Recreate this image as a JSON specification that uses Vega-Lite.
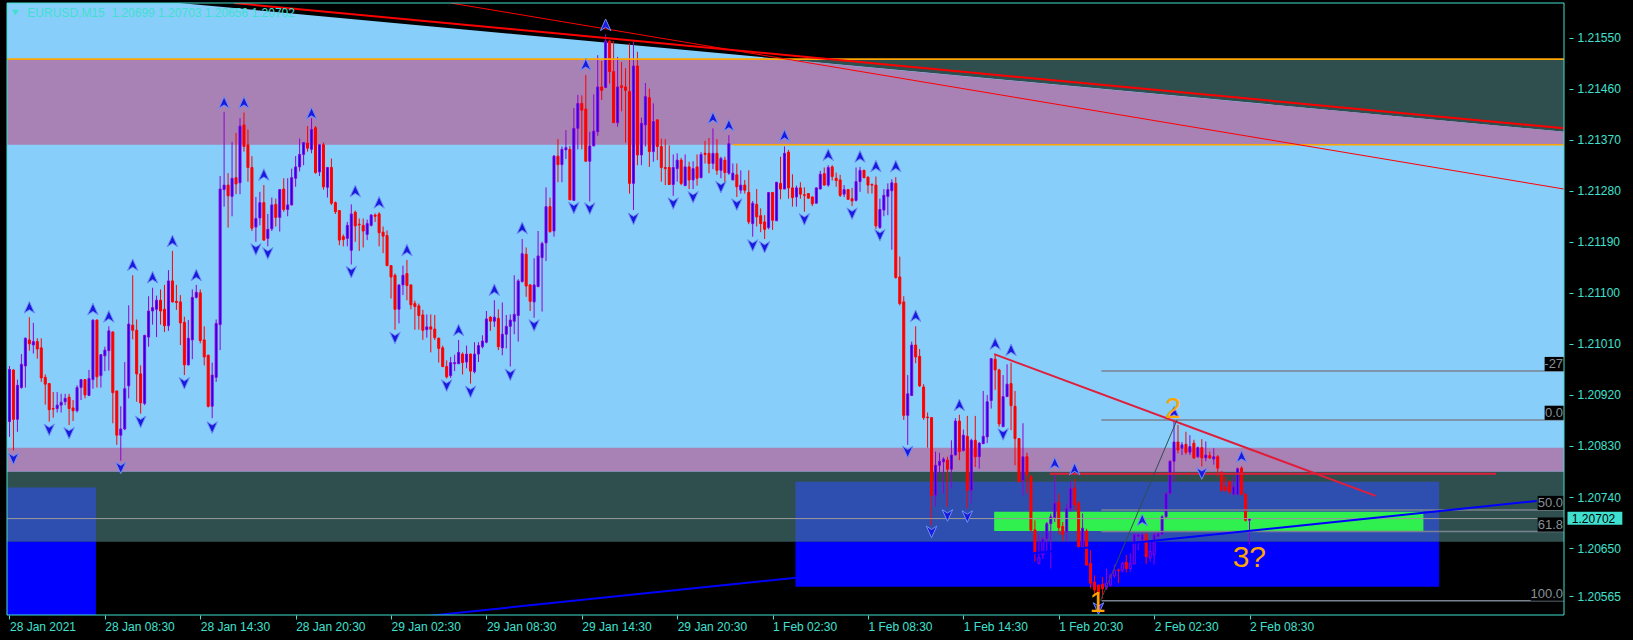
{
"$schema":"https://vega.github.io/schema/vega-lite/v6.json",
"width":1567,"height":612,
"autosize":{"type":"none"},
"padding":{"left":2,"top":3,"right":64,"bottom":25},
"background":"#000000",
"config":{"view":{"stroke":null}},
"resolve":{"axis":{"x":"independent","y":"independent"}},
"datasets":{
"slate":[{"a":-0.625,"b":391.125,"t":1.21512,"u":1.21361},{"a":-0.625,"b":391.125,"t":1.20827,"u":1.20661}],
"sky":[{"i":-0.625,"t":1.21611,"b":1.20785},{"i":42.75,"t":1.21611,"b":1.20785},{"i":391.125,"t":1.21384,"b":1.20785}],
"pur":[{"i":-0.625,"t":1.21512,"b":1.21361},{"i":194.1,"t":1.21512,"b":1.21361},{"i":391.125,"t":1.21384,"b":1.21361}],
"pband":[{"a":-0.625,"b":391.125,"t":1.20827,"u":1.20785}],
"xblue":[{"a":-0.625,"b":21.75,"t":1.20757,"u":1.20661},{"a":197.75,"b":359.7,"t":1.20767,"u":1.20661}],
"blue":[{"a":-0.625,"b":21.75,"t":1.20661,"u":1.20532},{"a":197.75,"b":359.7,"t":1.20661,"u":1.20582}],
"green":[{"a":247.75,"b":355.75,"t":1.20714,"u":1.20680}],
"orange":[{"a":-0.625,"b":391.125,"p":1.21512},{"a":182,"b":391.125,"p":1.21361}],
"bid":[{"a":-0.625,"b":391.125,"p":1.20702}],
"fib":[{"a":274.75,"b":391.125,"p":1.20962},{"a":274.75,"b":391.125,"p":1.20876},{"a":274.75,"b":391.125,"p":1.20717},{"a":274.75,"b":391.125,"p":1.20679},{"a":274.75,"b":391.125,"p":1.20557}],
"red2":[{"a":56.5,"pa":1.21611,"b":391.125,"pb":1.21390}],
"red1":[{"a":111,"pa":1.21611,"b":391.125,"pb":1.21283}],
"crim":[{"a":247.75,"pa":1.20992,"b":343.75,"pb":1.20742},{"a":261.75,"pa":1.20781,"b":374,"pb":1.20781}],
"bl":[{"a":104.75,"pa":1.20530,"b":384.25,"pb":1.20733}],
"zz":[{"a":274.5,"pa":1.20557,"b":293.75,"pb":1.20876}],
"ticksx":[{"i":0},{"i":24},{"i":48},{"i":72},{"i":96},{"i":120},{"i":144},{"i":168},{"i":192},{"i":216},{"i":240},{"i":264},{"i":288},{"i":312}],
"k":[
{"i":0,"o":1.20873,"h":1.20971,"l":1.20846,"c":1.20965},
{"i":1,"o":1.20964,"h":1.20965,"l":1.20822,"c":1.20877},
{"i":2,"o":1.20877,"h":1.20947,"l":1.20855,"c":1.20937},
{"i":3,"o":1.20933,"h":1.20992,"l":1.20931,"c":1.20974},
{"i":4,"o":1.20971,"h":1.21021,"l":1.20933,"c":1.21020},
{"i":5,"o":1.21017,"h":1.21057,"l":1.20998,"c":1.21010},
{"i":6,"o":1.21008,"h":1.21047,"l":1.20993,"c":1.21014},
{"i":7,"o":1.21014,"h":1.21020,"l":1.20984,"c":1.21001},
{"i":8,"o":1.21003,"h":1.21020,"l":1.20943,"c":1.20950},
{"i":9,"o":1.20951,"h":1.20956,"l":1.20903,"c":1.20939},
{"i":10,"o":1.20940,"h":1.20941,"l":1.20873,"c":1.20894},
{"i":11,"o":1.20896,"h":1.20925,"l":1.20880,"c":1.20895},
{"i":12,"o":1.20896,"h":1.20925,"l":1.20889,"c":1.20902},
{"i":13,"o":1.20902,"h":1.20922,"l":1.20889,"c":1.20907},
{"i":14,"o":1.20908,"h":1.20922,"l":1.20902,"c":1.20914},
{"i":15,"o":1.20916,"h":1.20922,"l":1.20867,"c":1.20896},
{"i":16,"o":1.20897,"h":1.20911,"l":1.20874,"c":1.20892},
{"i":17,"o":1.20892,"h":1.20937,"l":1.20889,"c":1.20933},
{"i":18,"o":1.20933,"h":1.20948,"l":1.20911,"c":1.20947},
{"i":19,"o":1.20947,"h":1.20948,"l":1.20914,"c":1.20920},
{"i":20,"o":1.20919,"h":1.20964,"l":1.20918,"c":1.20949},
{"i":21,"o":1.20947,"h":1.21053,"l":1.20931,"c":1.21052},
{"i":22,"o":1.21052,"h":1.21053,"l":1.20933,"c":1.20952},
{"i":23,"o":1.20954,"h":1.20991,"l":1.20933,"c":1.20991},
{"i":24,"o":1.20989,"h":1.21005,"l":1.20962,"c":1.20999},
{"i":25,"o":1.20998,"h":1.21041,"l":1.20963,"c":1.21033},
{"i":26,"o":1.21031,"h":1.21032,"l":1.20870,"c":1.20924},
{"i":27,"o":1.20927,"h":1.20927,"l":1.20832,"c":1.20849},
{"i":28,"o":1.20849,"h":1.20900,"l":1.20804,"c":1.20860},
{"i":29,"o":1.20860,"h":1.20978,"l":1.20858,"c":1.20931},
{"i":30,"o":1.20936,"h":1.21078,"l":1.20914,"c":1.21045},
{"i":31,"o":1.21043,"h":1.21131,"l":1.21018,"c":1.21034},
{"i":32,"o":1.21034,"h":1.21053,"l":1.20908,"c":1.20957},
{"i":33,"o":1.20957,"h":1.20972,"l":1.20887,"c":1.20906},
{"i":34,"o":1.20905,"h":1.21026,"l":1.20902,"c":1.21025},
{"i":35,"o":1.21022,"h":1.21094,"l":1.21005,"c":1.21068},
{"i":36,"o":1.21068,"h":1.21109,"l":1.21044,"c":1.21074},
{"i":37,"o":1.21071,"h":1.21095,"l":1.21022,"c":1.21087},
{"i":38,"o":1.21087,"h":1.21106,"l":1.21044,"c":1.21068},
{"i":39,"o":1.21071,"h":1.21114,"l":1.21031,"c":1.21042},
{"i":40,"o":1.21042,"h":1.21140,"l":1.21033,"c":1.21121},
{"i":41,"o":1.21121,"h":1.21174,"l":1.21083,"c":1.21084},
{"i":42,"o":1.21085,"h":1.21114,"l":1.21070,"c":1.21083},
{"i":43,"o":1.21084,"h":1.21096,"l":1.21008,"c":1.21047},
{"i":44,"o":1.21048,"h":1.21058,"l":1.20955,"c":1.20973},
{"i":45,"o":1.20973,"h":1.21052,"l":1.20972,"c":1.21020},
{"i":46,"o":1.21017,"h":1.21106,"l":1.20983,"c":1.21092},
{"i":47,"o":1.21092,"h":1.21114,"l":1.21090,"c":1.21101},
{"i":48,"o":1.21100,"h":1.21106,"l":1.21011,"c":1.21016},
{"i":49,"o":1.21017,"h":1.21041,"l":1.20972,"c":1.20987},
{"i":50,"o":1.20990,"h":1.20991,"l":1.20898,"c":1.20900},
{"i":51,"o":1.20900,"h":1.20977,"l":1.20879,"c":1.20955},
{"i":52,"o":1.20951,"h":1.21053,"l":1.20943,"c":1.21046},
{"i":53,"o":1.21044,"h":1.21306,"l":1.20999,"c":1.21283},
{"i":54,"o":1.21282,"h":1.21419,"l":1.21252,"c":1.21290},
{"i":55,"o":1.21290,"h":1.21311,"l":1.21215,"c":1.21271},
{"i":56,"o":1.21270,"h":1.21366,"l":1.21235,"c":1.21302},
{"i":57,"o":1.21303,"h":1.21382,"l":1.21274,"c":1.21292},
{"i":58,"o":1.21294,"h":1.21408,"l":1.21274,"c":1.21394},
{"i":59,"o":1.21396,"h":1.21418,"l":1.21349,"c":1.21358},
{"i":60,"o":1.21361,"h":1.21388,"l":1.21296,"c":1.21321},
{"i":61,"o":1.21321,"h":1.21341,"l":1.21209,"c":1.21214},
{"i":62,"o":1.21216,"h":1.21269,"l":1.21190,"c":1.21231},
{"i":63,"o":1.21232,"h":1.21278,"l":1.21219,"c":1.21259},
{"i":64,"o":1.21259,"h":1.21290,"l":1.21192,"c":1.21193},
{"i":65,"o":1.21196,"h":1.21239,"l":1.21182,"c":1.21212},
{"i":66,"o":1.21213,"h":1.21268,"l":1.21209,"c":1.21255},
{"i":67,"o":1.21256,"h":1.21266,"l":1.21217,"c":1.21233},
{"i":68,"o":1.21233,"h":1.21283,"l":1.21208,"c":1.21282},
{"i":69,"o":1.21283,"h":1.21302,"l":1.21243,"c":1.21247},
{"i":70,"o":1.21247,"h":1.21302,"l":1.21235,"c":1.21255},
{"i":71,"o":1.21255,"h":1.21319,"l":1.21254,"c":1.21303},
{"i":72,"o":1.21302,"h":1.21341,"l":1.21287,"c":1.21322},
{"i":73,"o":1.21322,"h":1.21372,"l":1.21314,"c":1.21344},
{"i":74,"o":1.21344,"h":1.21366,"l":1.21325,"c":1.21365},
{"i":75,"o":1.21364,"h":1.21394,"l":1.21349,"c":1.21355},
{"i":76,"o":1.21353,"h":1.21408,"l":1.21346,"c":1.21388},
{"i":77,"o":1.21391,"h":1.21394,"l":1.21310,"c":1.21312},
{"i":78,"o":1.21313,"h":1.21362,"l":1.21306,"c":1.21361},
{"i":79,"o":1.21361,"h":1.21365,"l":1.21282,"c":1.21287},
{"i":80,"o":1.21286,"h":1.21322,"l":1.21268,"c":1.21321},
{"i":81,"o":1.21321,"h":1.21337,"l":1.21255,"c":1.21258},
{"i":82,"o":1.21259,"h":1.21261,"l":1.21239,"c":1.21243},
{"i":83,"o":1.21245,"h":1.21246,"l":1.21184,"c":1.21193},
{"i":84,"o":1.21199,"h":1.21203,"l":1.21182,"c":1.21194},
{"i":85,"o":1.21196,"h":1.21225,"l":1.21182,"c":1.21219},
{"i":86,"o":1.21175,"h":1.21256,"l":1.21150,"c":1.21239},
{"i":87,"o":1.21242,"h":1.21245,"l":1.21190,"c":1.21218},
{"i":88,"o":1.21221,"h":1.21231,"l":1.21174,"c":1.21220},
{"i":89,"o":1.21219,"h":1.21231,"l":1.21180,"c":1.21209},
{"i":90,"o":1.21203,"h":1.21229,"l":1.21193,"c":1.21222},
{"i":91,"o":1.21219,"h":1.21239,"l":1.21217,"c":1.21237},
{"i":92,"o":1.21237,"h":1.21240,"l":1.21225,"c":1.21235},
{"i":93,"o":1.21239,"h":1.21242,"l":1.21182,"c":1.21206},
{"i":94,"o":1.21207,"h":1.21217,"l":1.21170,"c":1.21200},
{"i":95,"o":1.21201,"h":1.21210,"l":1.21147,"c":1.21148},
{"i":96,"o":1.21148,"h":1.21148,"l":1.21090,"c":1.21128},
{"i":97,"o":1.21131,"h":1.21134,"l":1.21035,"c":1.21071},
{"i":98,"o":1.21071,"h":1.21114,"l":1.21046,"c":1.21114},
{"i":99,"o":1.21114,"h":1.21148,"l":1.21096,"c":1.21131},
{"i":100,"o":1.21134,"h":1.21158,"l":1.21087,"c":1.21113},
{"i":101,"o":1.21114,"h":1.21114,"l":1.21071,"c":1.21079},
{"i":102,"o":1.21081,"h":1.21086,"l":1.21035,"c":1.21076},
{"i":103,"o":1.21077,"h":1.21081,"l":1.21035,"c":1.21060},
{"i":104,"o":1.21061,"h":1.21070,"l":1.21017,"c":1.21034},
{"i":105,"o":1.21035,"h":1.21062,"l":1.21021,"c":1.21040},
{"i":106,"o":1.21040,"h":1.21062,"l":1.20995,"c":1.21036},
{"i":107,"o":1.21036,"h":1.21061,"l":1.21017,"c":1.21021},
{"i":108,"o":1.21020,"h":1.21021,"l":1.20977,"c":1.21002},
{"i":109,"o":1.21003,"h":1.21007,"l":1.20969,"c":1.20970},
{"i":110,"o":1.20970,"h":1.20981,"l":1.20949,"c":1.20952},
{"i":111,"o":1.20954,"h":1.20987,"l":1.20950,"c":1.20977},
{"i":112,"o":1.20975,"h":1.20991,"l":1.20962,"c":1.20977},
{"i":113,"o":1.20975,"h":1.21017,"l":1.20975,"c":1.20995},
{"i":114,"o":1.20992,"h":1.20995,"l":1.20956,"c":1.20977},
{"i":115,"o":1.20978,"h":1.21007,"l":1.20967,"c":1.20992},
{"i":116,"o":1.20992,"h":1.20993,"l":1.20940,"c":1.20962},
{"i":117,"o":1.20961,"h":1.21013,"l":1.20958,"c":1.20992},
{"i":118,"o":1.20992,"h":1.21013,"l":1.20978,"c":1.21007},
{"i":119,"o":1.21005,"h":1.21025,"l":1.21002,"c":1.21015},
{"i":120,"o":1.21013,"h":1.21068,"l":1.21011,"c":1.21054},
{"i":121,"o":1.21057,"h":1.21059,"l":1.21033,"c":1.21050},
{"i":122,"o":1.21050,"h":1.21087,"l":1.21040,"c":1.21057},
{"i":123,"o":1.21055,"h":1.21071,"l":1.20999,"c":1.21005},
{"i":124,"o":1.21003,"h":1.21083,"l":1.20990,"c":1.21027},
{"i":125,"o":1.21027,"h":1.21061,"l":1.21002,"c":1.21041},
{"i":126,"o":1.21041,"h":1.21062,"l":1.20970,"c":1.21052},
{"i":127,"o":1.21050,"h":1.21131,"l":1.21027,"c":1.21062},
{"i":128,"o":1.21060,"h":1.21124,"l":1.21014,"c":1.21121},
{"i":129,"o":1.21120,"h":1.21195,"l":1.21118,"c":1.21169},
{"i":130,"o":1.21168,"h":1.21180,"l":1.21093,"c":1.21112},
{"i":131,"o":1.21114,"h":1.21115,"l":1.21068,"c":1.21085},
{"i":132,"o":1.21084,"h":1.21161,"l":1.21056,"c":1.21114},
{"i":133,"o":1.21111,"h":1.21209,"l":1.21110,"c":1.21165},
{"i":134,"o":1.21162,"h":1.21190,"l":1.21067,"c":1.21187},
{"i":135,"o":1.21188,"h":1.21286,"l":1.21156,"c":1.21252},
{"i":136,"o":1.21252,"h":1.21268,"l":1.21206,"c":1.21208},
{"i":137,"o":1.21209,"h":1.21343,"l":1.21199,"c":1.21341},
{"i":138,"o":1.21341,"h":1.21371,"l":1.21295,"c":1.21326},
{"i":139,"o":1.21326,"h":1.21358,"l":1.21295,"c":1.21353},
{"i":140,"o":1.21352,"h":1.21387,"l":1.21336,"c":1.21356},
{"i":141,"o":1.21353,"h":1.21359,"l":1.21264,"c":1.21264},
{"i":142,"o":1.21263,"h":1.21426,"l":1.21262,"c":1.21390},
{"i":143,"o":1.21390,"h":1.21449,"l":1.21353,"c":1.21434},
{"i":144,"o":1.21434,"h":1.21448,"l":1.21353,"c":1.21422},
{"i":145,"o":1.21424,"h":1.21484,"l":1.21332,"c":1.21332},
{"i":146,"o":1.21332,"h":1.21384,"l":1.21261,"c":1.21359},
{"i":147,"o":1.21359,"h":1.21450,"l":1.21359,"c":1.21385},
{"i":148,"o":1.21384,"h":1.21519,"l":1.21377,"c":1.21463},
{"i":149,"o":1.21463,"h":1.21509,"l":1.21440,"c":1.21457},
{"i":150,"o":1.21462,"h":1.21556,"l":1.21461,"c":1.21544},
{"i":151,"o":1.21544,"h":1.21546,"l":1.21469,"c":1.21490},
{"i":152,"o":1.21490,"h":1.21544,"l":1.21400,"c":1.21400},
{"i":153,"o":1.21400,"h":1.21516,"l":1.21393,"c":1.21463},
{"i":154,"o":1.21465,"h":1.21507,"l":1.21420,"c":1.21462},
{"i":155,"o":1.21463,"h":1.21496,"l":1.21365,"c":1.21457},
{"i":156,"o":1.21455,"h":1.21540,"l":1.21275,"c":1.21293},
{"i":157,"o":1.21293,"h":1.21545,"l":1.21246,"c":1.21500},
{"i":158,"o":1.21500,"h":1.21525,"l":1.21325,"c":1.21343},
{"i":159,"o":1.21343,"h":1.21409,"l":1.21325,"c":1.21399},
{"i":160,"o":1.21396,"h":1.21470,"l":1.21358,"c":1.21446},
{"i":161,"o":1.21444,"h":1.21460,"l":1.21322,"c":1.21349},
{"i":162,"o":1.21349,"h":1.21434,"l":1.21331,"c":1.21402},
{"i":163,"o":1.21405,"h":1.21405,"l":1.21334,"c":1.21358},
{"i":164,"o":1.21358,"h":1.21372,"l":1.21296,"c":1.21321},
{"i":165,"o":1.21321,"h":1.21371,"l":1.21290,"c":1.21319},
{"i":166,"o":1.21321,"h":1.21360,"l":1.21290,"c":1.21291},
{"i":167,"o":1.21291,"h":1.21344,"l":1.21271,"c":1.21321},
{"i":168,"o":1.21319,"h":1.21346,"l":1.21296,"c":1.21334},
{"i":169,"o":1.21334,"h":1.21338,"l":1.21290,"c":1.21293},
{"i":170,"o":1.21289,"h":1.21344,"l":1.21289,"c":1.21322},
{"i":171,"o":1.21322,"h":1.21331,"l":1.21283,"c":1.21299},
{"i":172,"o":1.21299,"h":1.21332,"l":1.21283,"c":1.21319},
{"i":173,"o":1.21322,"h":1.21344,"l":1.21289,"c":1.21302},
{"i":174,"o":1.21303,"h":1.21348,"l":1.21302,"c":1.21344},
{"i":175,"o":1.21346,"h":1.21368,"l":1.21328,"c":1.21344},
{"i":176,"o":1.21346,"h":1.21373,"l":1.21311,"c":1.21328},
{"i":177,"o":1.21328,"h":1.21390,"l":1.21318,"c":1.21346},
{"i":178,"o":1.21346,"h":1.21371,"l":1.21308,"c":1.21316},
{"i":179,"o":1.21316,"h":1.21340,"l":1.21302,"c":1.21337},
{"i":180,"o":1.21334,"h":1.21340,"l":1.21295,"c":1.21312},
{"i":181,"o":1.21311,"h":1.21378,"l":1.21308,"c":1.21363},
{"i":182,"o":1.21299,"h":1.21328,"l":1.21299,"c":1.21311},
{"i":183,"o":1.21308,"h":1.21328,"l":1.21269,"c":1.21287},
{"i":184,"o":1.21281,"h":1.21316,"l":1.21275,"c":1.21290},
{"i":185,"o":1.21290,"h":1.21299,"l":1.21275,"c":1.21281},
{"i":186,"o":1.21277,"h":1.21316,"l":1.21221,"c":1.21225},
{"i":187,"o":1.21222,"h":1.21262,"l":1.21199,"c":1.21258},
{"i":188,"o":1.21256,"h":1.21283,"l":1.21217,"c":1.21234},
{"i":189,"o":1.21236,"h":1.21249,"l":1.21207,"c":1.21222},
{"i":190,"o":1.21225,"h":1.21237,"l":1.21195,"c":1.21212},
{"i":191,"o":1.21215,"h":1.21277,"l":1.21212,"c":1.21277},
{"i":192,"o":1.21277,"h":1.21277,"l":1.21211,"c":1.21228},
{"i":193,"o":1.21227,"h":1.21295,"l":1.21227,"c":1.21295},
{"i":194,"o":1.21293,"h":1.21340,"l":1.21265,"c":1.21283},
{"i":195,"o":1.21283,"h":1.21358,"l":1.21283,"c":1.21346},
{"i":196,"o":1.21348,"h":1.21352,"l":1.21266,"c":1.21285},
{"i":197,"o":1.21285,"h":1.21309,"l":1.21252,"c":1.21268},
{"i":198,"o":1.21269,"h":1.21289,"l":1.21252,"c":1.21285},
{"i":199,"o":1.21285,"h":1.21295,"l":1.21266,"c":1.21274},
{"i":200,"o":1.21273,"h":1.21286,"l":1.21243,"c":1.21272},
{"i":201,"o":1.21275,"h":1.21276,"l":1.21266,"c":1.21267},
{"i":202,"o":1.21269,"h":1.21270,"l":1.21253,"c":1.21257},
{"i":203,"o":1.21258,"h":1.21286,"l":1.21258,"c":1.21285},
{"i":204,"o":1.21283,"h":1.21315,"l":1.21283,"c":1.21309},
{"i":205,"o":1.21310,"h":1.21321,"l":1.21289,"c":1.21290},
{"i":206,"o":1.21290,"h":1.21325,"l":1.21287,"c":1.21321},
{"i":207,"o":1.21322,"h":1.21325,"l":1.21298,"c":1.21305},
{"i":208,"o":1.21302,"h":1.21312,"l":1.21287,"c":1.21298},
{"i":209,"o":1.21299,"h":1.21308,"l":1.21269,"c":1.21272},
{"i":210,"o":1.21274,"h":1.21290,"l":1.21269,"c":1.21282},
{"i":211,"o":1.21282,"h":1.21283,"l":1.21264,"c":1.21265},
{"i":212,"o":1.21266,"h":1.21285,"l":1.21253,"c":1.21262},
{"i":213,"o":1.21263,"h":1.21321,"l":1.21261,"c":1.21296},
{"i":214,"o":1.21296,"h":1.21322,"l":1.21278,"c":1.21316},
{"i":215,"o":1.21316,"h":1.21317,"l":1.21302,"c":1.21303},
{"i":216,"o":1.21304,"h":1.21305,"l":1.21275,"c":1.21290},
{"i":217,"o":1.21291,"h":1.21293,"l":1.21275,"c":1.21290},
{"i":218,"o":1.21290,"h":1.21305,"l":1.21213,"c":1.21218},
{"i":219,"o":1.21215,"h":1.21266,"l":1.21213,"c":1.21247},
{"i":220,"o":1.21246,"h":1.21283,"l":1.21235,"c":1.21272},
{"i":221,"o":1.21270,"h":1.21293,"l":1.21237,"c":1.21282},
{"i":222,"o":1.21280,"h":1.21300,"l":1.21176,"c":1.21294},
{"i":223,"o":1.21293,"h":1.21304,"l":1.21125,"c":1.21127},
{"i":224,"o":1.21128,"h":1.21164,"l":1.21078,"c":1.21081},
{"i":225,"o":1.21084,"h":1.21094,"l":1.20876,"c":1.20884},
{"i":226,"o":1.20884,"h":1.20955,"l":1.20832,"c":1.20922},
{"i":227,"o":1.20919,"h":1.21014,"l":1.20918,"c":1.21008},
{"i":228,"o":1.21008,"h":1.21041,"l":1.20976,"c":1.20987},
{"i":229,"o":1.20988,"h":1.21001,"l":1.20934,"c":1.20936},
{"i":230,"o":1.20934,"h":1.20939,"l":1.20876,"c":1.20880},
{"i":231,"o":1.20881,"h":1.20889,"l":1.20827,"c":1.20880},
{"i":232,"o":1.20880,"h":1.20881,"l":1.20690,"c":1.20743},
{"i":233,"o":1.20743,"h":1.20820,"l":1.20723,"c":1.20796},
{"i":234,"o":1.20796,"h":1.20818,"l":1.20782,"c":1.20803},
{"i":235,"o":1.20802,"h":1.20810,"l":1.20746,"c":1.20807},
{"i":236,"o":1.20805,"h":1.20811,"l":1.20723,"c":1.20789},
{"i":237,"o":1.20789,"h":1.20840,"l":1.20755,"c":1.20814},
{"i":238,"o":1.20814,"h":1.20879,"l":1.20814,"c":1.20874},
{"i":239,"o":1.20874,"h":1.20885,"l":1.20805,"c":1.20820},
{"i":240,"o":1.20822,"h":1.20859,"l":1.20820,"c":1.20849},
{"i":241,"o":1.20847,"h":1.20883,"l":1.20720,"c":1.20752},
{"i":242,"o":1.20752,"h":1.20843,"l":1.20729,"c":1.20840},
{"i":243,"o":1.20840,"h":1.20883,"l":1.20793,"c":1.20811},
{"i":244,"o":1.20811,"h":1.20837,"l":1.20790,"c":1.20835},
{"i":245,"o":1.20834,"h":1.20927,"l":1.20834,"c":1.20847},
{"i":246,"o":1.20846,"h":1.20920,"l":1.20835,"c":1.20908},
{"i":247,"o":1.20910,"h":1.20984,"l":1.20896,"c":1.20984},
{"i":248,"o":1.20983,"h":1.20992,"l":1.20929,"c":1.20964},
{"i":249,"o":1.20964,"h":1.20966,"l":1.20864,"c":1.20869},
{"i":250,"o":1.20864,"h":1.20955,"l":1.20864,"c":1.20917},
{"i":251,"o":1.20917,"h":1.20974,"l":1.20917,"c":1.20939},
{"i":252,"o":1.20940,"h":1.20977,"l":1.20858,"c":1.20901},
{"i":253,"o":1.20900,"h":1.20927,"l":1.20796,"c":1.20843},
{"i":254,"o":1.20843,"h":1.20843,"l":1.20767,"c":1.20767},
{"i":255,"o":1.20769,"h":1.20870,"l":1.20743,"c":1.20811},
{"i":256,"o":1.20811,"h":1.20818,"l":1.20746,"c":1.20779},
{"i":257,"o":1.20776,"h":1.20779,"l":1.20679,"c":1.20682},
{"i":258,"o":1.20682,"h":1.20699,"l":1.20626,"c":1.20641},
{"i":259,"o":1.20623,"h":1.20674,"l":1.20621,"c":1.20633},
{"i":260,"o":1.20638,"h":1.20670,"l":1.20631,"c":1.20666},
{"i":261,"o":1.20666,"h":1.20696,"l":1.20643,"c":1.20693},
{"i":262,"o":1.20693,"h":1.20711,"l":1.20614,"c":1.20705},
{"i":263,"o":1.20704,"h":1.20779,"l":1.20696,"c":1.20729},
{"i":264,"o":1.20731,"h":1.20746,"l":1.20674,"c":1.20686},
{"i":265,"o":1.20688,"h":1.20696,"l":1.20662,"c":1.20674},
{"i":266,"o":1.20679,"h":1.20729,"l":1.20661,"c":1.20720},
{"i":267,"o":1.20720,"h":1.20768,"l":1.20714,"c":1.20755},
{"i":268,"o":1.20756,"h":1.20772,"l":1.20717,"c":1.20726},
{"i":269,"o":1.20729,"h":1.20733,"l":1.20652,"c":1.20652},
{"i":270,"o":1.20652,"h":1.20711,"l":1.20649,"c":1.20685},
{"i":271,"o":1.20680,"h":1.20684,"l":1.20620,"c":1.20620},
{"i":272,"o":1.20623,"h":1.20646,"l":1.20579,"c":1.20588},
{"i":273,"o":1.20590,"h":1.20602,"l":1.20567,"c":1.20576},
{"i":274,"o":1.20585,"h":1.20585,"l":1.20557,"c":1.20570},
{"i":275,"o":1.20586,"h":1.20599,"l":1.20561,"c":1.20578},
{"i":276,"o":1.20580,"h":1.20614,"l":1.20576,"c":1.20588},
{"i":277,"o":1.20585,"h":1.20605,"l":1.20582,"c":1.20602},
{"i":278,"o":1.20601,"h":1.20621,"l":1.20597,"c":1.20611},
{"i":279,"o":1.20611,"h":1.20614,"l":1.20588,"c":1.20610},
{"i":280,"o":1.20610,"h":1.20626,"l":1.20607,"c":1.20623},
{"i":281,"o":1.20625,"h":1.20638,"l":1.20607,"c":1.20614},
{"i":282,"o":1.20614,"h":1.20641,"l":1.20608,"c":1.20623},
{"i":283,"o":1.20622,"h":1.20676,"l":1.20621,"c":1.20674},
{"i":284,"o":1.20670,"h":1.20676,"l":1.20646,"c":1.20674},
{"i":285,"o":1.20664,"h":1.20680,"l":1.20661,"c":1.20674},
{"i":286,"o":1.20674,"h":1.20679,"l":1.20622,"c":1.20635},
{"i":287,"o":1.20633,"h":1.20661,"l":1.20626,"c":1.20644},
{"i":288,"o":1.20638,"h":1.20679,"l":1.20621,"c":1.20674},
{"i":289,"o":1.20670,"h":1.20680,"l":1.20666,"c":1.20676},
{"i":290,"o":1.20674,"h":1.20708,"l":1.20673,"c":1.20705},
{"i":291,"o":1.20705,"h":1.20749,"l":1.20704,"c":1.20746},
{"i":292,"o":1.20746,"h":1.20805,"l":1.20745,"c":1.20803},
{"i":293,"o":1.20803,"h":1.20876,"l":1.20767,"c":1.20837},
{"i":294,"o":1.20837,"h":1.20867,"l":1.20817,"c":1.20823},
{"i":295,"o":1.20826,"h":1.20837,"l":1.20814,"c":1.20832},
{"i":296,"o":1.20833,"h":1.20855,"l":1.20815,"c":1.20819},
{"i":297,"o":1.20819,"h":1.20849,"l":1.20814,"c":1.20829},
{"i":298,"o":1.20835,"h":1.20841,"l":1.20807,"c":1.20809},
{"i":299,"o":1.20811,"h":1.20829,"l":1.20809,"c":1.20827},
{"i":300,"o":1.20827,"h":1.20842,"l":1.20794,"c":1.20809},
{"i":301,"o":1.20809,"h":1.20838,"l":1.20803,"c":1.20814},
{"i":302,"o":1.20813,"h":1.20820,"l":1.20807,"c":1.20809},
{"i":303,"o":1.20807,"h":1.20826,"l":1.20797,"c":1.20811},
{"i":304,"o":1.20811,"h":1.20814,"l":1.20776,"c":1.20791},
{"i":305,"o":1.20784,"h":1.20785,"l":1.20749,"c":1.20752},
{"i":306,"o":1.20758,"h":1.20776,"l":1.20749,"c":1.20752},
{"i":307,"o":1.20767,"h":1.20770,"l":1.20745,"c":1.20749},
{"i":308,"o":1.20745,"h":1.20776,"l":1.20743,"c":1.20758},
{"i":309,"o":1.20745,"h":1.20792,"l":1.20743,"c":1.20790},
{"i":310,"o":1.20791,"h":1.20794,"l":1.20743,"c":1.20745},
{"i":311,"o":1.20745,"h":1.20746,"l":1.20697,"c":1.20699},
{"i":312,"o":1.20699,"h":1.20703,"l":1.20656,"c":1.20702}
],
"fu":[{"i":5,"p":1.21074},{"i":21,"p":1.21071},{"i":25,"p":1.21058},{"i":31,"p":1.21149},{"i":36,"p":1.21127},{"i":41,"p":1.21191},{"i":47,"p":1.21131},{"i":54,"p":1.21435},{"i":59,"p":1.21435},{"i":64,"p":1.21308},{"i":76,"p":1.21416},{"i":87,"p":1.21279},{"i":93,"p":1.21259},{"i":100,"p":1.21175},{"i":113,"p":1.21034},{"i":122,"p":1.21105},{"i":129,"p":1.21214},{"i":145,"p":1.21502},{"i":150,"p":1.21572},{"i":177,"p":1.21408},{"i":181,"p":1.21395},{"i":195,"p":1.21377},{"i":206,"p":1.21343},{"i":214,"p":1.21340},{"i":218,"p":1.21323},{"i":223,"p":1.21323},{"i":228,"p":1.21059},{"i":239,"p":1.20902},{"i":248,"p":1.21010},{"i":252,"p":1.20999},{"i":263,"p":1.20799},{"i":268,"p":1.20789},{"i":285,"p":1.20699},{"i":293,"p":1.20889},{"i":310,"p":1.20811}],
"fd":[{"i":1,"p":1.20808},{"i":10,"p":1.20859},{"i":15,"p":1.20853},{"i":28,"p":1.20792},{"i":33,"p":1.20873},{"i":44,"p":1.20941},{"i":51,"p":1.20863},{"i":62,"p":1.21177},{"i":65,"p":1.21170},{"i":86,"p":1.21137},{"i":97,"p":1.21021},{"i":110,"p":1.20937},{"i":116,"p":1.20926},{"i":126,"p":1.20956},{"i":132,"p":1.21043},{"i":142,"p":1.21250},{"i":146,"p":1.21249},{"i":157,"p":1.21231},{"i":167,"p":1.21258},{"i":172,"p":1.21269},{"i":179,"p":1.21287},{"i":183,"p":1.21256},{"i":187,"p":1.21184},{"i":190,"p":1.21181},{"i":200,"p":1.21230},{"i":212,"p":1.21240},{"i":219,"p":1.21202},{"i":226,"p":1.20820},{"i":232,"p":1.20679},{"i":236,"p":1.20708},{"i":241,"p":1.20706},{"i":250,"p":1.20851},{"i":274,"p":1.20544},{"i":300,"p":1.20782}],
"nums":[{"i":273.75,"p":1.20537,"t":"1"},{"i":292.75,"p":1.20879,"t":"2"}],
"q3":[{"i":307.75,"p":1.20617,"t":"3?"}],
"fl":[{"t":"-27","p":1.20962,"q":1.20987,"a":386.25},{"t":"0.0","p":1.20876,"q":1.20901,"a":386.25},{"t":"50.0","p":1.20717,"q":1.20742,"a":384.5},{"t":"61.8","p":1.20679,"q":1.20704,"a":384.5},{"t":"100.0","p":1.20557,"q":1.20582,"a":382.75}],
"ttl":[{"i":4.5,"p":1.21593,"t":"EURUSD,M15\u00a0\u00a01.20699 1.20703 1.20656 1.20702"}],
"tri":[{"i":1.5,"p":1.21594}],
"tag":[{"a":392,"b":405.8,"t":1.20714,"u":1.20691,"i":393.1,"p":1.20702,"s":"1.20702"}],
"frame":[{"a":-0.625,"b":391.125,"t":1.21611,"u":1.20532}]
},
"layer":[
{"data":{"name":"slate"},"mark":{"type":"rect","color":"#2F4F4F","clip":true},
 "encoding":{
  "x":{"field":"a","type":"quantitative","scale":{"domain":[-0.625,391.125],"nice":false,"zero":false},"axis":null},
  "x2":{"field":"b"},
  "y":{"field":"t","type":"quantitative","scale":{"domain":[1.20532,1.21611],"nice":false,"zero":false},"axis":null},
  "y2":{"field":"u"}}},
{"data":{"name":"sky"},"mark":{"type":"area","color":"#87CEFA","clip":true,"opacity":1},
 "encoding":{"x":{"field":"i","type":"quantitative","scale":{"domain":[-0.625,391.125],"nice":false,"zero":false},"axis":null},
  "y":{"field":"t","type":"quantitative","scale":{"domain":[1.20532,1.21611],"nice":false,"zero":false},"axis":null},"y2":{"field":"b"}}},
{"data":{"name":"pur"},"mark":{"type":"area","color":"#A881B5","clip":true,"opacity":1},
 "encoding":{"x":{"field":"i","type":"quantitative","scale":{"domain":[-0.625,391.125],"nice":false,"zero":false},"axis":null},
  "y":{"field":"t","type":"quantitative","scale":{"domain":[1.20532,1.21611],"nice":false,"zero":false},"axis":null},"y2":{"field":"b"}}},
{"data":{"name":"pband"},"mark":{"type":"rect","color":"#A881B5","clip":true},
 "encoding":{"x":{"field":"a","type":"quantitative","scale":{"domain":[-0.625,391.125],"nice":false,"zero":false},"axis":null},"x2":{"field":"b"},
  "y":{"field":"t","type":"quantitative","scale":{"domain":[1.20532,1.21611],"nice":false,"zero":false},"axis":null},"y2":{"field":"u"}}},
{"data":{"name":"xblue"},"mark":{"type":"rect","color":"#2F4FB0","clip":true},
 "encoding":{"x":{"field":"a","type":"quantitative","scale":{"domain":[-0.625,391.125],"nice":false,"zero":false},"axis":null},"x2":{"field":"b"},
  "y":{"field":"t","type":"quantitative","scale":{"domain":[1.20532,1.21611],"nice":false,"zero":false},"axis":null},"y2":{"field":"u"}}},
{"data":{"name":"blue"},"mark":{"type":"rect","color":"#0000FF","clip":true},
 "encoding":{"x":{"field":"a","type":"quantitative","scale":{"domain":[-0.625,391.125],"nice":false,"zero":false},"axis":null},"x2":{"field":"b"},
  "y":{"field":"t","type":"quantitative","scale":{"domain":[1.20532,1.21611],"nice":false,"zero":false},"axis":null},"y2":{"field":"u"}}},
{"data":{"name":"green"},"mark":{"type":"rect","color":"#2FF04F","clip":true},
 "encoding":{"x":{"field":"a","type":"quantitative","scale":{"domain":[-0.625,391.125],"nice":false,"zero":false},"axis":null},"x2":{"field":"b"},
  "y":{"field":"t","type":"quantitative","scale":{"domain":[1.20532,1.21611],"nice":false,"zero":false},"axis":null},"y2":{"field":"u"}}},
{"data":{"name":"k"},"mark":{"type":"rule","strokeWidth":1,"clip":true},
 "encoding":{"x":{"field":"i","type":"quantitative","scale":{"domain":[-0.625,391.125],"nice":false,"zero":false},"axis":null},
  "y":{"field":"l","type":"quantitative","scale":{"domain":[1.20532,1.21611],"nice":false,"zero":false},"axis":null},"y2":{"field":"h"},
  "color":{"condition":{"test":"datum.c > datum.o","value":"#9400D3"},"value":"#FF0000"}}},
{"data":{"name":"k"},"mark":{"type":"bar","size":2,"strokeWidth":1,"clip":true},
 "encoding":{"x":{"field":"i","type":"quantitative","scale":{"domain":[-0.625,391.125],"nice":false,"zero":false},"axis":null},
  "y":{"field":"o","type":"quantitative","scale":{"domain":[1.20532,1.21611],"nice":false,"zero":false},"axis":null},"y2":{"field":"c"},
  "fill":{"condition":{"test":"datum.c > datum.o","value":"#0000FF"},"value":"#FF0000"},
  "stroke":{"condition":{"test":"datum.c > datum.o","value":"#9400D3"},"value":"#FF0000"}}},
{"data":{"name":"orange"},"mark":{"type":"rule","color":"#FFA500","strokeWidth":1.6,"clip":true},
 "encoding":{"x":{"field":"a","type":"quantitative","scale":{"domain":[-0.625,391.125],"nice":false,"zero":false},"axis":null},"x2":{"field":"b"},
  "y":{"field":"p","type":"quantitative","scale":{"domain":[1.20532,1.21611],"nice":false,"zero":false},"axis":null}}},
{"data":{"name":"bid"},"mark":{"type":"rule","color":"#9A9A9A","strokeWidth":1,"clip":true},
 "encoding":{"x":{"field":"a","type":"quantitative","scale":{"domain":[-0.625,391.125],"nice":false,"zero":false},"axis":null},"x2":{"field":"b"},
  "y":{"field":"p","type":"quantitative","scale":{"domain":[1.20532,1.21611],"nice":false,"zero":false},"axis":null}}},
{"data":{"name":"fib"},"mark":{"type":"rule","color":"#7A8290","strokeWidth":1.5,"clip":true},
 "encoding":{"x":{"field":"a","type":"quantitative","scale":{"domain":[-0.625,391.125],"nice":false,"zero":false},"axis":null},"x2":{"field":"b"},
  "y":{"field":"p","type":"quantitative","scale":{"domain":[1.20532,1.21611],"nice":false,"zero":false},"axis":null}}},
{"data":{"name":"red2"},"mark":{"type":"rule","color":"#FF0000","strokeWidth":2,"clip":true},
 "encoding":{"x":{"field":"a","type":"quantitative","scale":{"domain":[-0.625,391.125],"nice":false,"zero":false},"axis":null},"x2":{"field":"b"},
  "y":{"field":"pa","type":"quantitative","scale":{"domain":[1.20532,1.21611],"nice":false,"zero":false},"axis":null},"y2":{"field":"pb"}}},
{"data":{"name":"red1"},"mark":{"type":"rule","color":"#FF0000","strokeWidth":1,"clip":true},
 "encoding":{"x":{"field":"a","type":"quantitative","scale":{"domain":[-0.625,391.125],"nice":false,"zero":false},"axis":null},"x2":{"field":"b"},
  "y":{"field":"pa","type":"quantitative","scale":{"domain":[1.20532,1.21611],"nice":false,"zero":false},"axis":null},"y2":{"field":"pb"}}},
{"data":{"name":"crim"},"mark":{"type":"rule","color":"#E01E3C","strokeWidth":2,"clip":true},
 "encoding":{"x":{"field":"a","type":"quantitative","scale":{"domain":[-0.625,391.125],"nice":false,"zero":false},"axis":null},"x2":{"field":"b"},
  "y":{"field":"pa","type":"quantitative","scale":{"domain":[1.20532,1.21611],"nice":false,"zero":false},"axis":null},"y2":{"field":"pb"}}},
{"data":{"name":"bl"},"mark":{"type":"rule","color":"#0000FF","strokeWidth":2,"clip":true},
 "encoding":{"x":{"field":"a","type":"quantitative","scale":{"domain":[-0.625,391.125],"nice":false,"zero":false},"axis":null},"x2":{"field":"b"},
  "y":{"field":"pa","type":"quantitative","scale":{"domain":[1.20532,1.21611],"nice":false,"zero":false},"axis":null},"y2":{"field":"pb"}}},
{"data":{"name":"zz"},"mark":{"type":"rule","color":"#2F4F4F","strokeWidth":1,"clip":true},
 "encoding":{"x":{"field":"a","type":"quantitative","scale":{"domain":[-0.625,391.125],"nice":false,"zero":false},"axis":null},"x2":{"field":"b"},
  "y":{"field":"pa","type":"quantitative","scale":{"domain":[1.20532,1.21611],"nice":false,"zero":false},"axis":null},"y2":{"field":"pb"}}},
{"data":{"name":"fu"},"mark":{"type":"point","shape":"M0,-1L0.85,0.9L0,0.35L-0.85,0.9Z","size":150,"filled":true,"fill":"#1A1ADF","stroke":"#6F8DF5","strokeWidth":1,"opacity":1,"clip":true},
 "encoding":{"x":{"field":"i","type":"quantitative","scale":{"domain":[-0.625,391.125],"nice":false,"zero":false},"axis":null},
  "y":{"field":"p","type":"quantitative","scale":{"domain":[1.20532,1.21611],"nice":false,"zero":false},"axis":null}}},
{"data":{"name":"fd"},"mark":{"type":"point","shape":"M0,1L0.85,-0.9L0,-0.35L-0.85,-0.9Z","size":150,"filled":true,"fill":"#1A1ADF","stroke":"#6F8DF5","strokeWidth":1,"opacity":1,"clip":true},
 "encoding":{"x":{"field":"i","type":"quantitative","scale":{"domain":[-0.625,391.125],"nice":false,"zero":false},"axis":null},
  "y":{"field":"p","type":"quantitative","scale":{"domain":[1.20532,1.21611],"nice":false,"zero":false},"axis":null}}},
{"data":{"name":"nums"},"mark":{"type":"text","font":"Liberation Sans","fontSize":29,"color":"#FFA500","align":"center","baseline":"alphabetic"},
 "encoding":{"x":{"field":"i","type":"quantitative","scale":{"domain":[-0.625,391.125],"nice":false,"zero":false},"axis":null},
  "y":{"field":"p","type":"quantitative","scale":{"domain":[1.20532,1.21611],"nice":false,"zero":false},"axis":null},"text":{"field":"t"}}},
{"data":{"name":"q3"},"mark":{"type":"text","font":"Liberation Sans","fontSize":30,"color":"#FFA500","align":"left","baseline":"alphabetic"},
 "encoding":{"x":{"field":"i","type":"quantitative","scale":{"domain":[-0.625,391.125],"nice":false,"zero":false},"axis":null},
  "y":{"field":"p","type":"quantitative","scale":{"domain":[1.20532,1.21611],"nice":false,"zero":false},"axis":null},"text":{"field":"t"}}},
{"data":{"name":"fl"},"mark":{"type":"rect","color":"#000000","clip":true},
 "encoding":{"x":{"field":"a","type":"quantitative","scale":{"domain":[-0.625,391.125],"nice":false,"zero":false},"axis":null},"x2":{"datum":391.125},
  "y":{"field":"q","type":"quantitative","scale":{"domain":[1.20532,1.21611],"nice":false,"zero":false},"axis":null},"y2":{"field":"p"}}},
{"data":{"name":"fl"},"mark":{"type":"text","font":"Liberation Sans","fontSize":13,"color":"#8A8F98","align":"right","baseline":"bottom","dy":0},
 "encoding":{"x":{"datum":390.9,"type":"quantitative","scale":{"domain":[-0.625,391.125],"nice":false,"zero":false},"axis":null},
  "y":{"field":"p","type":"quantitative","scale":{"domain":[1.20532,1.21611],"nice":false,"zero":false},"axis":null},"text":{"field":"t"}}},
{"data":{"name":"tri"},"mark":{"type":"point","shape":"triangle-down","size":45,"filled":true,"color":"#40E0D0","opacity":1},
 "encoding":{"x":{"field":"i","type":"quantitative","scale":{"domain":[-0.625,391.125],"nice":false,"zero":false},"axis":null},
  "y":{"field":"p","type":"quantitative","scale":{"domain":[1.20532,1.21611],"nice":false,"zero":false},"axis":null}}},
{"data":{"name":"ttl"},"mark":{"type":"text","font":"Liberation Sans","fontSize":12,"color":"#40E0D0","align":"left","baseline":"middle"},
 "encoding":{"x":{"field":"i","type":"quantitative","scale":{"domain":[-0.625,391.125],"nice":false,"zero":false},"axis":null},
  "y":{"field":"p","type":"quantitative","scale":{"domain":[1.20532,1.21611],"nice":false,"zero":false},"axis":null},"text":{"field":"t"}}},
{"data":{"name":"tag"},"mark":{"type":"rect","color":"#40E0D0"},
 "encoding":{"x":{"field":"a","type":"quantitative","scale":{"domain":[-0.625,391.125],"nice":false,"zero":false},"axis":null},"x2":{"field":"b"},
  "y":{"field":"t","type":"quantitative","scale":{"domain":[1.20532,1.21611],"nice":false,"zero":false},"axis":null},"y2":{"field":"u"}}},
{"data":{"name":"tag"},"mark":{"type":"text","font":"Liberation Sans","fontSize":12,"color":"#000000","align":"left","baseline":"middle"},
 "encoding":{"x":{"field":"i","type":"quantitative","scale":{"domain":[-0.625,391.125],"nice":false,"zero":false},"axis":null},
  "y":{"field":"p","type":"quantitative","scale":{"domain":[1.20532,1.21611],"nice":false,"zero":false},"axis":null},"text":{"field":"s"}}},
{"data":{"name":"frame"},"mark":{"type":"rect","filled":false,"stroke":"#40E0D0","strokeWidth":1},
 "encoding":{"x":{"field":"a","type":"quantitative","scale":{"domain":[-0.625,391.125],"nice":false,"zero":false},
   "axis":{"title":null,"values":[0,24,48,72,96,120,144,168,192,216,240,264,288,312],
    "labelExpr":"['28 Jan 2021','28 Jan 08:30','28 Jan 14:30','28 Jan 20:30','29 Jan 02:30','29 Jan 08:30','29 Jan 14:30','29 Jan 20:30','1 Feb 02:30','1 Feb 08:30','1 Feb 14:30','1 Feb 20:30','2 Feb 02:30','2 Feb 08:30'][round(datum.value/24)]",
    "orient":"bottom","labelAlign":"left","labelBaseline":"top","labelPadding":2,"labelFlush":false,"labelOverlap":false,"labelBound":false,
    "domain":false,"grid":false,"ticks":true,"tickSize":4,"tickColor":"#40E0D0","labelColor":"#40E0D0","labelFont":"Liberation Sans","labelFontSize":12,"zindex":2}},
  "x2":{"field":"b"},
  "y":{"field":"t","type":"quantitative","scale":{"domain":[1.20532,1.21611],"nice":false,"zero":false},
   "axis":{"title":null,"orient":"right","values":[1.2155,1.2146,1.2137,1.2128,1.2119,1.211,1.2101,1.2092,1.2083,1.2074,1.2065,1.20565],"format":".5f",
    "labelAlign":"left","labelBaseline":"middle","labelPadding":4,"labelFlush":false,"labelOverlap":false,"labelBound":false,
    "domain":false,"grid":false,"ticks":true,"tickSize":4,"tickColor":"#40E0D0","labelColor":"#40E0D0","labelFont":"Liberation Sans","labelFontSize":12,"zindex":2}},
  "y2":{"field":"u"}}}
]
}
